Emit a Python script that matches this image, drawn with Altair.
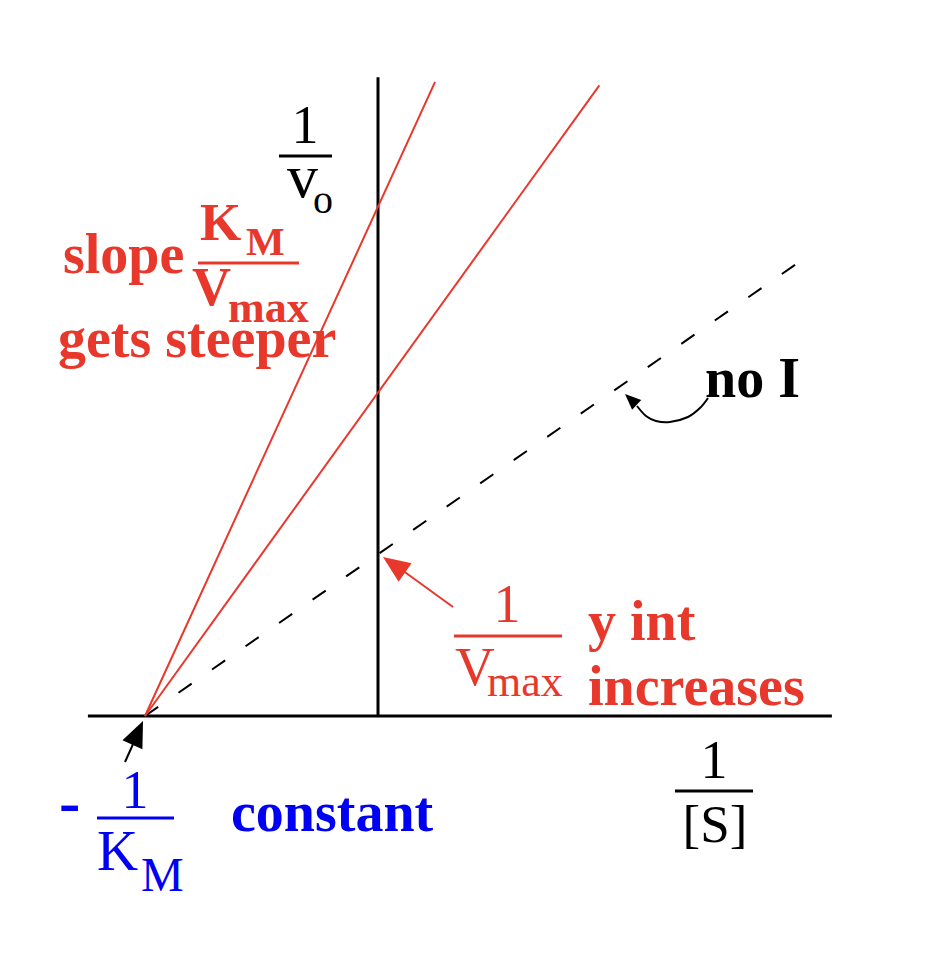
import altair as alt
import pandas as pd

# ---------------- data ----------------
km = 1.0                                  # -1/KM sits at x = -1 (constant)
series = ["no I", "I low", "I high"]
inv_vmax = [1.0, 2.0, 3.15]               # 1/Vmax  (y intercepts)
x_end = [1.79, 0.95, 0.245]               # where each drawn line stops
x_axis_extent = [-1.245, 1.948]
y_axis_top = 3.95

# ---------------- layout ----------------
W, H = 920, 930
X0, Y0, XU, YU = 378, 716, 233.0, 161.7   # page pixel of origin, px per unit
FONT = "Liberation Serif"
RED = "#E8382C"
BLUE = "#0000F2"
BLACK = "#000000"

xs = alt.Scale(domain=[(8 - X0) / XU, (8 + W - X0) / XU], nice=False, zero=False)
ys = alt.Scale(domain=[(Y0 - 8 - H) / YU, (Y0 - 8) / YU], nice=False, zero=False)

rows = []
for s, b, xe in zip(series, inv_vmax, x_end):
    rows.append({"series": s, "x": -1.0 / km, "y": 0.0})
    rows.append({"series": s, "x": xe, "y": b * (1 + km * xe)})
lines = pd.DataFrame(rows)

X = lambda f="x": alt.X(f"{f}:Q", scale=xs, axis=None)
Y = lambda f="y": alt.Y(f"{f}:Q", scale=ys, axis=None)

one = pd.DataFrame({"k": [0]})

h_axis = alt.Chart(pd.DataFrame({"x": [x_axis_extent[0]], "x2": [x_axis_extent[1]], "y": [0.0]})).mark_rule(
    color=BLACK, strokeWidth=3).encode(x=X(), x2="x2:Q", y=Y())
v_axis = alt.Chart(pd.DataFrame({"x": [0.0], "y": [0.0], "y2": [y_axis_top]})).mark_rule(
    color=BLACK, strokeWidth=3).encode(x=X(), y=Y(), y2="y2:Q")

dashed = alt.Chart(lines[lines.series == "no I"]).mark_line(
    color=BLACK, strokeWidth=2, strokeDash=[16, 24.8]).encode(x=X(), y=Y())
reds = alt.Chart(lines[lines.series != "no I"]).mark_line(
    color=RED, strokeWidth=2).encode(x=X(), y=Y(), detail="series:N")


def txt(s, px, py, size, color, bold=False, align="left"):
    return alt.Chart(pd.DataFrame({"t": [s]})).mark_text(
        font=FONT, fontSize=size, fontWeight="bold" if bold else "normal",
        color=color, align=align, baseline="alphabetic").encode(
        x=alt.value(px - 8), y=alt.value(py - 8), text="t:N")


def bar(x1, x2, py, color, w=3):
    return alt.Chart(one).mark_rule(color=color, strokeWidth=w).encode(
        x=alt.value(x1 - 8), x2=alt.value(x2 - 8), y=alt.value(py - 8))


def seg(x1, y1, x2, y2, color, w=2):
    return alt.Chart(one).mark_rule(color=color, strokeWidth=w).encode(
        x=alt.value(x1 - 8), x2=alt.value(x2 - 8), y=alt.value(y1 - 8), y2=alt.value(y2 - 8))


ARROW = "M0,0L0.42,1L-0.42,1Z"


def head(px, py, length, angle, color):
    return alt.Chart(one).mark_point(
        shape=ARROW, size=(2 * length) ** 2, angle=angle, filled=True,
        color=color, opacity=1, strokeWidth=0).encode(
        x=alt.value(px - 8), y=alt.value(py - 8))


# curved arrow from "no I"
curve_px = [(708, 398), (700, 408), (688, 417), (670, 422), (656, 421), (646, 416), (637, 406)]
curve = pd.DataFrame({
    "i": list(range(len(curve_px))),
    "x": [(p[0] - X0) / XU for p in curve_px],
    "y": [(Y0 - p[1]) / YU for p in curve_px],
})
curve_line = alt.Chart(curve).mark_line(color=BLACK, strokeWidth=2, interpolate="cardinal").encode(
    x=X(), y=Y(), order="i:O")

layers = [
    h_axis, v_axis, dashed, reds,
    # 1 / v0
    txt("1", 305, 143, 54, BLACK, align="center"),
    bar(279, 332, 156, BLACK),
    txt("v", 287, 197, 62, BLACK),
    txt("o", 313, 213, 40, BLACK),
    # slope KM / Vmax gets steeper
    txt("slope", 63, 273, 56, RED, bold=True),
    txt("K", 200, 240, 53, RED, bold=True),
    txt("M", 246, 255, 41, RED, bold=True),
    bar(198, 299, 263, RED),
    txt("V", 192, 305, 54, RED, bold=True),
    txt("max", 228, 322, 44, RED, bold=True),
    txt("gets steeper", 58, 357, 56, RED, bold=True),
    # no I
    txt("no I", 705, 397, 56, BLACK, bold=True),
    curve_line,
    head(625, 394, 16, 313, BLACK),
    # 1/[S]
    txt("1", 714, 778, 54, BLACK, align="center"),
    bar(675, 753, 791, BLACK),
    txt("[S]", 715, 842, 53, BLACK, align="center"),
    # 1/Vmax y int increases
    seg(453, 607, 402, 570, RED, 2),
    head(383, 557, 27, 305, RED),
    txt("1", 507, 622, 54, RED, align="center"),
    bar(454, 562, 636, RED),
    txt("V", 455, 685, 55, RED),
    txt("max", 487, 696, 44, RED),
    txt("y int", 588, 640, 56, RED, bold=True),
    txt("increases", 588, 705, 56, RED, bold=True),
    # -1/KM constant
    seg(125, 762, 134, 742, BLACK, 2),
    head(143, 721, 26, 24, BLACK),
    txt("-", 59, 823, 64, BLUE, bold=True),
    txt("1", 135, 808, 54, BLUE, align="center"),
    bar(97, 174, 818, BLUE),
    txt("K", 97, 870, 57, BLUE),
    txt("M", 141, 891, 48, BLUE),
    txt("constant", 231, 831, 56, BLUE, bold=True),
]

chart = alt.layer(*layers).properties(width=W, height=H, padding=0).configure_view(stroke=None)

chart.save("out.html", embed_options={"renderer": "svg", "actions": False})
